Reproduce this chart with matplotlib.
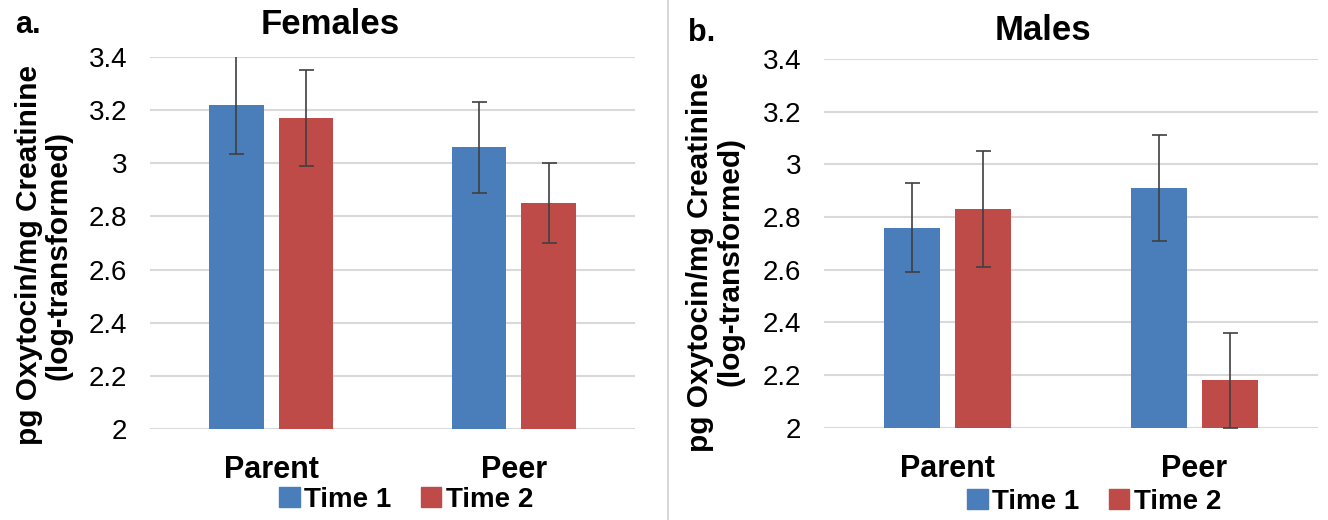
import matplotlib
matplotlib.use("Agg")
import matplotlib.pyplot as plt
from matplotlib.lines import Line2D
from matplotlib.ticker import FuncFormatter
import numpy as np

plt.rcParams['font.family'] = ['Liberation Sans', 'DejaVu Sans']

# Data
contexts = ["Parent", "Peer"]
series = ["Time 1", "Time 2"]
female_t1 = [3.22, 3.06]
female_t2 = [3.17, 2.85]
female_t1_err = [0.185, 0.17]
female_t2_err = [0.18, 0.15]
male_t1 = [2.76, 2.91]
male_t2 = [2.83, 2.18]
male_t1_err = [0.17, 0.20]
male_t2_err = [0.22, 0.18]
yticks = [2.0, 2.2, 2.4, 2.6, 2.8, 3.0, 3.2, 3.4]

blue = '#4a7ebb'
red = '#be4b48'
grid_c = '#d9d9d9'
err_c = '#404040'

W, H = 1328, 520
fig = plt.figure(figsize=(W / 100, H / 100), dpi=100)
ax1 = fig.add_axes([150 / W, 1 - 429 / H, 485 / W, 372 / H])
ax2 = fig.add_axes([824 / W, 1 - 427.7 / H, 494 / W, 368.7 / H])


def draw_panel(ax, t1, t2, e1, e2):
    x = np.arange(len(contexts))
    w = 0.225
    off = 0.144
    ax.bar(x - off, t1, w, color=blue, zorder=2)
    ax.bar(x + off, t2, w, color=red, zorder=2)
    ax.errorbar(x - off, t1, yerr=e1, fmt='none', ecolor=err_c,
                elinewidth=1.2, capsize=5.4, capthick=1.2, zorder=3)
    ax.errorbar(x + off, t2, yerr=e2, fmt='none', ecolor=err_c,
                elinewidth=1.2, capsize=5.4, capthick=1.2, zorder=3)
    ax.set_ylim(2.0, 3.4)
    ax.set_xlim(-0.5, 1.5)
    ax.set_yticks(yticks)
    ax.yaxis.set_major_formatter(FuncFormatter(lambda v, p: f"{v:g}"))
    ax.set_xticks(x)
    ax.set_xticklabels(contexts, fontsize=22, fontweight='bold')
    ax.tick_params(axis='x', length=0, pad=19)
    ax.tick_params(axis='y', length=0, pad=16.5, labelsize=20)
    ax.grid(axis='y', color=grid_c, linewidth=1.5, zorder=0)
    ax.set_axisbelow(True)
    for s in ax.spines.values():
        s.set_visible(False)
    ax.set_ylabel("pg Oxytocin/mg Creatinine\n(log-transformed)",
                  fontsize=21.5, fontweight='bold', linespacing=1.1)


draw_panel(ax1, female_t1, female_t2, female_t1_err, female_t2_err)
draw_panel(ax2, male_t1, male_t2, male_t1_err, male_t2_err)
# label anchor = right edge of the two-line block
ax1.yaxis.set_label_coords((73 - 150) / 485, (429 - 255) / 372)
ax2.yaxis.set_label_coords((744 - 824) / 494, (427.7 - 262) / 368.7)

# panel titles and letters
fig.text(330 / W, 1 - 24 / H, "Females", fontsize=25, fontweight='bold',
         ha='center', va='center')
fig.text(1043 / W, 1 - 30 / H, "Males", fontsize=25, fontweight='bold',
         ha='center', va='center')
fig.text(28 / W, 1 - 25 / H, "a.", fontsize=22, fontweight='bold',
         ha='center', va='center')
fig.text(702 / W, 1 - 33 / H, "b.", fontsize=22, fontweight='bold',
         ha='center', va='center')

# divider between panels
fig.add_artist(Line2D([668 / W, 668 / W], [0, 1], color='#d0d0d0',
                      linewidth=1.2))

handles = [plt.Rectangle((0, 0), 1, 1, color=blue),
           plt.Rectangle((0, 0), 1, 1, color=red)]
for cx, cy in [(406, 500), (1094, 502)]:
    fig.legend(handles, series, loc='center',
               bbox_to_anchor=(cx / W, 1 - cy / H), ncol=2,
               frameon=False, handlelength=0.75, handleheight=0.75,
               handletextpad=0.15, columnspacing=1.05,
               borderpad=0, borderaxespad=0,
               prop={'size': 20, 'weight': 'bold'})

fig.savefig("out.png", dpi=100)
